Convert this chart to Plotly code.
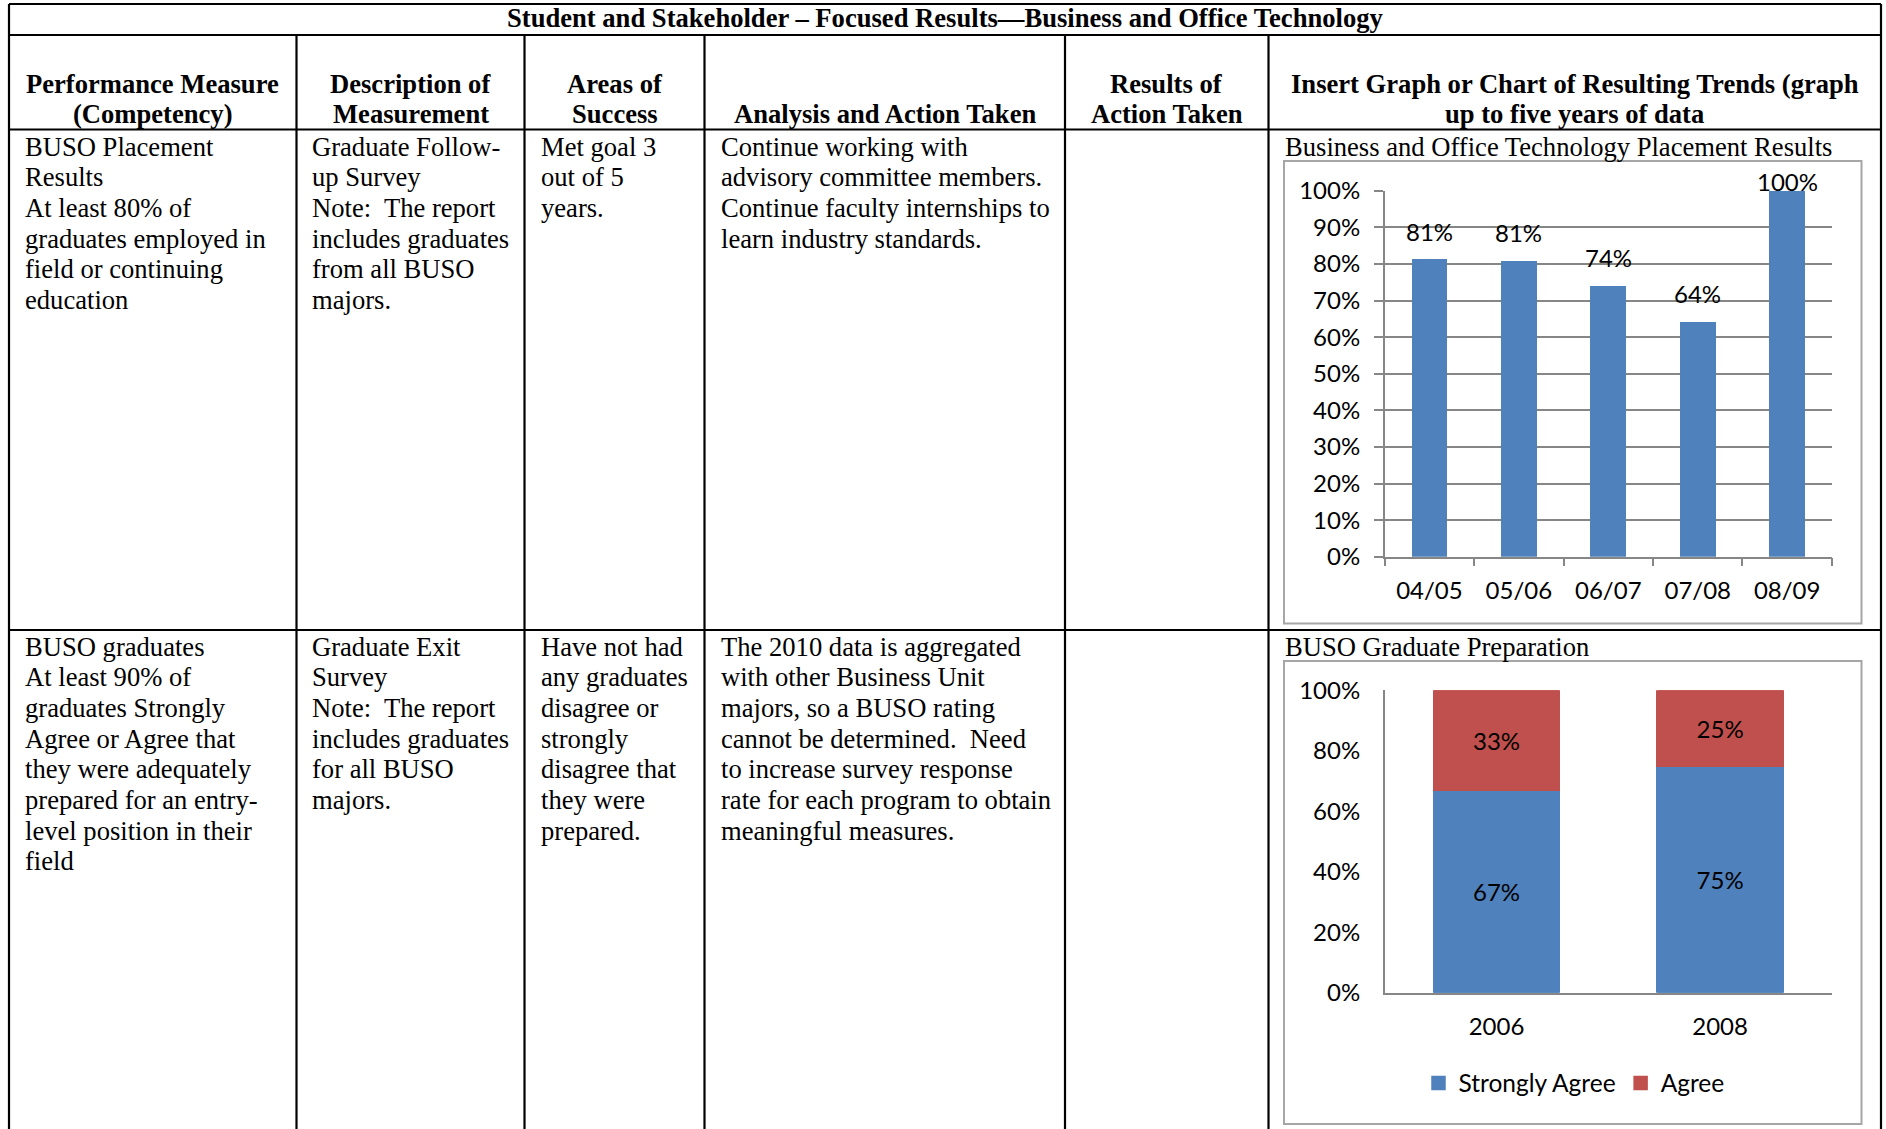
import plotly.graph_objects as go

W, H = 1886, 1129

# ---------------- data ----------------
table_title = "Student and Stakeholder \u2013 Focused Results\u2014Business and Office Technology"

header_col1 = ["Performance Measure", "(Competency)"]
header_col2 = ["Description of", "Measurement"]
header_col3 = ["Areas of", "Success"]
header_col4 = ["", "Analysis and Action Taken"]
header_col5 = ["Results of", "Action Taken"]
header_col6 = ["Insert Graph or Chart of Resulting Trends (graph", "up to five years of data"]

row1_measure = ["BUSO Placement", "Results", "At least 80% of", "graduates employed in",
                "field or continuing", "education"]
row1_description = ["Graduate Follow-", "up Survey", "Note:\u00a0 The report", "includes graduates",
                    "from all BUSO", "majors."]
row1_success = ["Met goal 3", "out of 5", "years."]
row1_analysis = ["Continue working with", "advisory committee members.",
                 "Continue faculty internships to", "learn industry standards."]
row1_chart_title = "Business and Office Technology Placement Results"

row2_measure = ["BUSO graduates", "At least 90% of", "graduates Strongly", "Agree or Agree that",
                "they were adequately", "prepared for an entry-", "level position in their", "field"]
row2_description = ["Graduate Exit", "Survey", "Note:\u00a0 The report", "includes graduates",
                    "for all BUSO", "majors."]
row2_success = ["Have not had", "any graduates", "disagree or", "strongly", "disagree that",
                "they were", "prepared."]
row2_analysis = ["The 2010 data is aggregated", "with other Business Unit", "majors, so a BUSO rating",
                 "cannot be determined.\u00a0 Need", "to increase survey response",
                 "rate for each program to obtain", "meaningful measures."]
row2_chart_title = "BUSO Graduate Preparation"

placement_years = ["04/05", "05/06", "06/07", "07/08", "08/09"]
placement_rates = [0.813, 0.809, 0.74, 0.642, 1.00]

prep_years = ["2006", "2008"]
prep_strongly_agree = [0.67, 0.75]
prep_agree = [0.33, 0.25]

# ---------------- styles ----------------
BLUE = "#4F81BD"
RED = "#C0504D"
GRAY = "#868686"
FRAME = "#A6A6A6"
SERIF = "Liberation Serif, Times New Roman, serif"
SANS = "Lato, Carlito, Calibri, sans-serif"
BODY_SIZE = 26.6
CHART_SIZE = 24
LINE_PITCH = 30.65


def fx(x):
    return x / W


def fy(y):
    return 1 - y / H


annotations = []
shapes = []


def text_line(text, x, y, anchor="left", bold=False):
    if not text:
        return
    annotations.append(dict(
        text=f"<b>{text}</b>" if bold else text,
        x=fx(x), y=fy(y), xref="paper", yref="paper",
        xanchor=anchor, yanchor="middle", showarrow=False,
        font=dict(family=SERIF, size=BODY_SIZE, color="black"),
    ))


def text_block(lines, x, y0):
    for i, ln in enumerate(lines):
        text_line(ln, x, y0 + i * LINE_PITCH)


# table geometry
LEFT, RIGHT, TOP = 9, 1881, 4
H1, H2, R1 = 35, 129.5, 630
COLS = [296.5, 524.5, 704.5, 1065, 1268.5]
col_edges = [LEFT] + COLS + [RIGHT]
col_centers = [(col_edges[i] + col_edges[i + 1]) / 2 for i in range(6)]

# table title
text_line(table_title, (LEFT + RIGHT) / 2, 18.5, anchor="center", bold=True)
headers = [header_col1, header_col2, header_col3, header_col4, header_col5, header_col6]
for c, hl in zip(col_centers, headers):
    text_line(hl[0], c, 83.5, anchor="center", bold=True)
    text_line(hl[1], c, 114, anchor="center", bold=True)

# body text
text_x = [23, 310, 538.5, 719]
for x, block in zip(text_x, [row1_measure, row1_description, row1_success, row1_analysis]):
    text_block(block, x, 146.8)
for x, block in zip(text_x, [row2_measure, row2_description, row2_success, row2_analysis]):
    text_block(block, x, 646.8)
text_line(row1_chart_title, 1283, 146.8)
text_line(row2_chart_title, 1283, 646.8)


# table lines
def line(x0, y0, x1, y1, color="black", width=2.2):
    shapes.append(dict(type="line", xref="paper", yref="paper",
                       x0=fx(x0), y0=fy(y0), x1=fx(x1), y1=fy(y1),
                       line=dict(color=color, width=width), layer="above"))


line(LEFT, TOP, RIGHT, TOP)
line(LEFT, TOP, LEFT, H)
line(RIGHT, TOP, RIGHT, H)
for yy in [H1, H2, R1]:
    line(LEFT, yy, RIGHT, yy)
for xx in COLS:
    line(xx, H1, xx, H)

# chart frames
for (y0, y1) in [(161, 623.5), (661, 1124)]:
    shapes.append(dict(type="rect", xref="paper", yref="paper",
                       x0=fx(1284), y0=fy(y1), x1=fx(1861.5), y1=fy(y0),
                       line=dict(color=FRAME, width=2), layer="below"))

# ---------------- traces ----------------
fig = go.Figure()
fig.add_trace(go.Bar(x=placement_years, y=placement_rates, marker=dict(color=BLUE, line=dict(width=0)),
                     width=0.4, xaxis="x", yaxis="y", showlegend=False, hoverinfo="skip"))

plot_h1 = 556.7 - 190.7
for yr, v in zip(placement_years, placement_rates):
    shift = min(28, (1 - v) * plot_h1 + 9.5)
    annotations.append(dict(x=yr, y=v, xref="x", yref="y", text=f"{v:.0%}", showarrow=False,
                            yanchor="middle", yshift=shift,
                            font=dict(family=SANS, size=CHART_SIZE, color="black")))

PREP_LINE = 2.5
prep_width = 0.57 - PREP_LINE / 223.6
fig.add_trace(go.Bar(x=prep_years, y=prep_strongly_agree, name="Strongly Agree",
                     marker=dict(color=BLUE, line=dict(width=PREP_LINE, color=BLUE)), width=prep_width,
                     texttemplate="%{y:.0%}", textposition="inside", insidetextanchor="middle",
                     insidetextfont=dict(family=SANS, size=CHART_SIZE, color="black"),
                     textangle=0, xaxis="x2", yaxis="y2", hoverinfo="skip"))
fig.add_trace(go.Bar(x=prep_years, y=prep_agree, name="Agree",
                     marker=dict(color=RED, line=dict(width=PREP_LINE, color=RED)), width=prep_width,
                     texttemplate="%{y:.0%}", textposition="inside", insidetextanchor="middle",
                     insidetextfont=dict(family=SANS, size=CHART_SIZE, color="black"),
                     textangle=0, xaxis="x2", yaxis="y2", hoverinfo="skip"))

tickfont = dict(family=SANS, size=CHART_SIZE, color="black")

fig.update_layout(
    width=W, height=H,
    margin=dict(l=0, r=0, t=0, b=0, autoexpand=False),
    paper_bgcolor="white", plot_bgcolor="white",
    barmode="stack",
    annotations=annotations,
    shapes=shapes,
    xaxis=dict(domain=[fx(1384.7), fx(1831.9)], anchor="y", type="category", automargin=False,
               showline=True, linecolor=GRAY, linewidth=1.5,
               ticks="outside", tickson="boundaries", ticklen=8, tickwidth=1.5, tickcolor=GRAY,
               showgrid=False, tickfont=tickfont, ticklabelstandoff=12, fixedrange=True),
    yaxis=dict(domain=[fy(556.7), fy(190.7)], anchor="x", range=[0, 1], dtick=0.1, tickformat=".0%",
               automargin=False,
               showline=True, linecolor=GRAY, linewidth=1.5,
               ticks="outside", ticklen=9, tickwidth=1.5, tickcolor=GRAY,
               showgrid=True, gridcolor=GRAY, gridwidth=1.5, zeroline=False,
               tickfont=tickfont, ticklabelstandoff=9, fixedrange=True),
    xaxis2=dict(domain=[fx(1384.7), fx(1831.9)], anchor="y2", type="category", automargin=False,
                showline=True, linecolor=GRAY, linewidth=1.5, ticks="",
                showgrid=False, tickfont=tickfont, ticklabelstandoff=12, fixedrange=True),
    yaxis2=dict(domain=[fy(992.7), fy(690.3)], anchor="x2", range=[0, 1], dtick=0.2, tickformat=".0%",
                automargin=False,
                showline=True, linecolor=GRAY, linewidth=1.5, ticks="",
                showgrid=False, zeroline=False, tickfont=tickfont, ticklabelstandoff=18,
                fixedrange=True),
    legend=dict(orientation="h", x=fx(1574), xanchor="center", y=fy(1083), yanchor="middle",
                font=dict(family=SANS, size=CHART_SIZE + 0.5, color="black"), traceorder="normal",
                bgcolor="rgba(0,0,0,0)"),
)

fig.write_html("out.html", config={"displayModeBar": False})
